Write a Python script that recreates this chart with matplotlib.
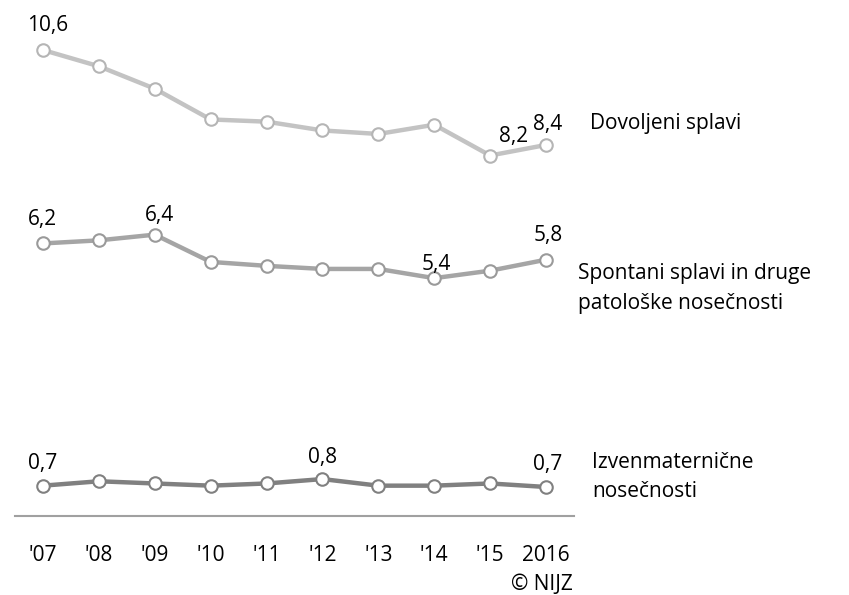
import matplotlib.pyplot as plt

years = ["'07", "'08", "'09", "'10", "'11", "'12", "'13", "'14", "'15", "2016"]
dovoljeni = [10.6, 10.23, 9.72, 9.02, 8.97, 8.77, 8.69, 8.90, 8.20, 8.44]
spontani = [6.2, 6.27, 6.40, 5.78, 5.69, 5.62, 5.62, 5.41, 5.58, 5.83]
izven = [0.69, 0.79, 0.74, 0.69, 0.74, 0.84, 0.69, 0.69, 0.74, 0.66]

names = ["Dovoljeni splavi", "Spontani splavi in druge\npatološke nosečnosti",
         "Izvenmaternične\nnosečnosti"]
colors = ["#c3c3c3", "#a5a5a5", "#808080"]
edges = ["#b5b5b5", "#9a9a9a", "#808080"]

# which points get a value label, and pixel offset of the label
labels = [
    [(0, 5, 25), (8, 23, 19), (9, 2, 20)],
    [(0, -1, 24), (2, 5, 19), (7, 2, 14), (9, 2, 24)],
    [(0, 0, 22), (5, 0, 22), (9, 2, 22)],
]
name_offsets = [(44, 21), (32, -29), (46, 10)]

plt.rcParams['font.family'] = ['Open Sans', 'DejaVu Sans']
fs = 15

fig = plt.figure(figsize=(8.49, 5.95), dpi=100)
ax = fig.add_axes([15 / 849, 1 - 516 / 595, 559 / 849, 466 / 595])

x = range(len(years))
for vals, name, c, ec, labs, noff in zip([dovoljeni, spontani, izven], names,
                                         colors, edges, labels, name_offsets):
    ax.plot(x, vals, color=c, lw=3.2, marker='o', ms=9, mfc='white',
            mec=ec, mew=1.5, clip_on=False, zorder=3)
    for i, dx, dy in labs:
        txt = f"{vals[i]:.1f}".replace('.', ',')
        ax.annotate(txt, (i, vals[i]), xytext=(dx, dy), textcoords='offset pixels',
                    ha='center', va='center', fontsize=fs, color='black')
    ax.annotate(name, (len(years) - 1, vals[-1]), xytext=noff,
                textcoords='offset pixels', ha='left', va='center',
                fontsize=fs, color='black', linespacing=1.55,
                annotation_clip=False)

ax.set_xlim(-0.5, 9.5)
ax.set_ylim(0, 10.6)
for s in ['top', 'right', 'left']:
    ax.spines[s].set_visible(False)
ax.spines['bottom'].set_color('#a0a0a0')
ax.spines['bottom'].set_linewidth(1.5)
ax.set_yticks([])
ax.set_xticks(list(x))
ax.set_xticklabels(years, fontsize=fs)
ax.tick_params(axis='x', length=0, pad=21)
ax.patch.set_alpha(0)

fig.text(573 / 849, 1 - 584 / 595, "© NIJZ", ha='right', va='center', fontsize=fs)

fig.savefig("out.png", dpi=100)
